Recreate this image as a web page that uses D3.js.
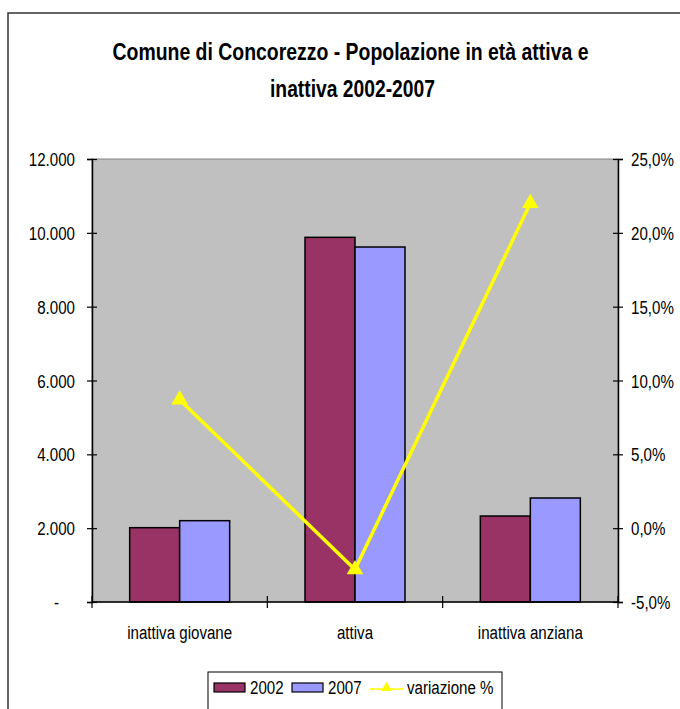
<!DOCTYPE html>
<html><head><meta charset="utf-8">
<script src="https://cdn.jsdelivr.net/npm/d3@7"></script>
<style>
body{margin:0;background:#fff;}
svg{display:block;}
text{font-family:"Liberation Sans",Arial,sans-serif;fill:#000;}
</style></head>
<body>
<script>
const categories = ["inattiva giovane", "attiva", "inattiva anziana"];
const series = ["2002", "2007"];
const values2002 = [2013, 9878, 2329];
const values2007 = [2203, 9616, 2817];
const variazione = [8.7, -2.8, 22.0];
const leftTicks = [0, 2000, 4000, 6000, 8000, 10000, 12000];
const rightTicks = [-5, 0, 5, 10, 15, 20, 25];
const titleLines = ["Comune di Concorezzo - Popolazione in età attiva e", "inattiva 2002-2007"];
const colors = {"2002": "#993366", "2007": "#9999ff", line: "#ffff00"};

const W = 680, H = 709, FS = 19;
const svg = d3.select("body").append("svg").attr("width", W).attr("height", H);

// calibrate horizontal condensing so "inattiva giovane" is ~105px wide (Arial Narrow look)
const probe = svg.append("text").attr("font-size", FS).text(categories[0]);
const SX = 105 / probe.node().getComputedTextLength();
probe.remove();

function narrow(sel) {
  sel.each(function() {
    const t = d3.select(this);
    const xx = +t.attr("x") || 0, yy = +t.attr("y") || 0;
    t.attr("x", 0).attr("y", 0).attr("transform", `translate(${xx},${yy}) scale(${SX},1)`);
  });
}

// outer border
svg.append("rect").attr("x", 8).attr("y", 13).attr("width", 700).attr("height", 720)
  .attr("fill", "#fff").attr("stroke", "#333").attr("stroke-width", 1.5);

// title
const tLen = [476, 165];
svg.append("g").selectAll("text").data(titleLines).join("text")
  .attr("x", (d, i) => i === 0 ? 112.5 : 270).attr("y", (d, i) => 60 + i * 37)
  .attr("font-weight", "bold").attr("font-size", 23)
  .attr("textLength", (d, i) => tLen[i]).attr("lengthAdjust", "spacingAndGlyphs")
  .text(d => d);

const m = {l: 92, r: 618, t: 159, b: 602};
const x = d3.scaleBand().domain(categories).range([m.l, m.r]).paddingInner(0).paddingOuter(0);
const inner = d3.scaleBand().domain(series).range([0, 100]);
const yL = d3.scaleLinear().domain([0, 12000]).range([m.b, m.t]);
const yR = d3.scaleLinear().domain([-5, 25]).range([m.b, m.t]);

// plot area
svg.append("rect").attr("x", m.l).attr("y", m.t).attr("width", m.r - m.l).attr("height", m.b - m.t)
  .attr("fill", "#c0c0c0").attr("stroke", "#808080").attr("stroke-width", 1);

// bars
const rows = [];
categories.forEach((c, i) => {
  rows.push({cat: c, s: "2002", v: values2002[i]});
  rows.push({cat: c, s: "2007", v: values2007[i]});
});
svg.append("g").selectAll("rect").data(rows).join("rect")
  .attr("x", d => x(d.cat) + (x.bandwidth() - 100) / 2 + inner(d.s))
  .attr("width", inner.bandwidth())
  .attr("y", d => yL(d.v))
  .attr("height", d => yL(0) - yL(d.v))
  .attr("fill", d => colors[d.s])
  .attr("stroke", "#000").attr("stroke-width", 1.5);

// left axis
const fmtL = d => d === 0 ? "-" : d3.format(",")(d).replace(/,/g, ".");
const gL = svg.append("g").attr("transform", `translate(${m.l},0)`)
  .call(d3.axisLeft(yL).tickValues(leftTicks).tickFormat(fmtL).tickSize(5).tickPadding(12));
gL.select(".domain").attr("stroke", "#000").attr("stroke-width", 1.5);
gL.selectAll(".tick line").attr("x2", -5).attr("x1", 5).attr("stroke", "#000").attr("stroke-width", 1.2);
gL.selectAll(".tick text").attr("font-size", FS).attr("font-family", null).attr("dy", "0.35em");
gL.selectAll(".tick").filter(d => d === 0).select("text").attr("x", -33);
narrow(gL.selectAll(".tick text"));

// right axis
const fmtR = d => d3.format(".1f")(d).replace(".", ",").replace("−", "-") + "%";
const gR = svg.append("g").attr("transform", `translate(${m.r},0)`)
  .call(d3.axisRight(yR).tickValues(rightTicks).tickFormat(fmtR).tickSize(5).tickPadding(8));
gR.select(".domain").attr("stroke", "#000").attr("stroke-width", 1.5);
gR.selectAll(".tick line").attr("x1", -5).attr("x2", 5).attr("stroke", "#000").attr("stroke-width", 1.2);
gR.selectAll(".tick text").attr("font-size", FS).attr("font-family", null).attr("dy", "0.35em");
narrow(gR.selectAll(".tick text"));

// bottom axis
const gB = svg.append("g").attr("transform", `translate(0,${m.b})`);
gB.append("line").attr("x1", m.l).attr("x2", m.r).attr("stroke", "#000").attr("stroke-width", 1.5);
const bounds = categories.map(c => x(c)).concat([m.r]);
gB.selectAll("line.tk").data(bounds).join("line").attr("class", "tk")
  .attr("x1", d => d).attr("x2", d => d).attr("y1", -6).attr("y2", 6)
  .attr("stroke", "#000").attr("stroke-width", 1.2);
gB.selectAll("text").data(categories).join("text")
  .attr("x", d => x(d) + x.bandwidth() / 2).attr("y", 37)
  .attr("text-anchor", "middle").attr("font-size", FS).text(d => d);
narrow(gB.selectAll("text"));

// line
const pts = categories.map((c, i) => [x(c) + x.bandwidth() / 2, yR(variazione[i])]);
svg.append("path").datum(pts).attr("d", d3.line())
  .attr("fill", "none").attr("stroke", colors.line).attr("stroke-width", 3.5);
const tri = d3.symbol().type(d3.symbolTriangle).size(120);
svg.append("g").selectAll("path").data(pts).join("path")
  .attr("transform", d => `translate(${d[0]},${d[1]})`).attr("d", tri).attr("fill", colors.line);

// legend
const lg = svg.append("g");
lg.append("rect").attr("x", 208).attr("y", 672).attr("width", 294).attr("height", 50)
  .attr("fill", "#fff").attr("stroke", "#000").attr("stroke-width", 1);
const sw = [{s: "2002", x: 214, tx: 250}, {s: "2007", x: 292, tx: 328}];
lg.selectAll("rect.sw").data(sw).join("rect").attr("class", "sw")
  .attr("x", d => d.x).attr("y", 683).attr("width", 31).attr("height", 9)
  .attr("fill", d => colors[d.s]).attr("stroke", "#000").attr("stroke-width", 1.2);
lg.selectAll("text.sw").data(sw).join("text").attr("class", "sw")
  .attr("x", d => d.tx).attr("y", 694).attr("font-size", FS).text(d => d.s);
lg.append("line").attr("x1", 370).attr("x2", 403).attr("y1", 689).attr("y2", 689)
  .attr("stroke", colors.line).attr("stroke-width", 1.5);
lg.append("path").attr("transform", "translate(386.5,688)").attr("d", d3.symbol().type(d3.symbolTriangle).size(50))
  .attr("fill", colors.line);
lg.append("text").attr("x", 407).attr("y", 694).attr("font-size", FS).text("variazione %");
narrow(lg.selectAll("text"));
</script>
</body></html>
